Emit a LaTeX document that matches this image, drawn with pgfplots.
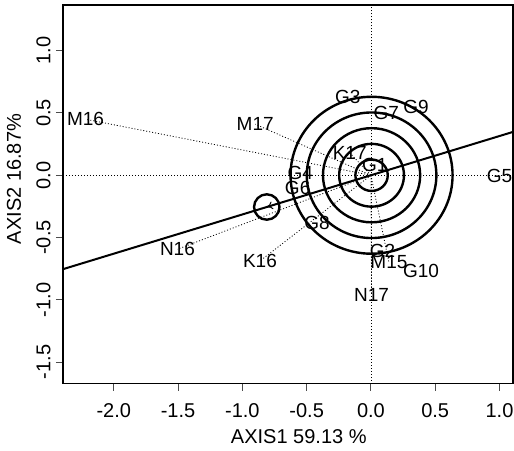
\documentclass[border=0pt]{standalone}
\usepackage{fontspec}
\setmainfont{Liberation Sans}
\usepackage{pgfplots}
\usepackage{pgfplotstable}
\pgfplotsset{compat=1.18}
\usetikzlibrary{arrows.meta}

\pgfplotstableread{
x y label
0.03 0.08 G1
0.09 -0.605 G2
-0.18 0.63 G3
-0.55 0.02 G4
1.0 -0.005 G5
-0.57 -0.10 G6
0.12 0.50 G7
-0.42 -0.385 G8
0.35 0.545 G9
0.39 -0.765 G10
}\genos

\pgfplotstableread{
x y label
-2.22 0.45 M16
-0.90 0.41 M17
-0.165 0.18 K17
-1.505 -0.594 N16
-0.863 -0.688 K16
0.14 -0.70 M15
0.005 -0.96 N17
}\envs

\begin{document}
\begin{tikzpicture}
\begin{axis}[
  at={(0,0)}, anchor=south west,
  scale only axis, width=225pt, height=189.25pt,
  xmin=-2.395, xmax=1.105, ymin=-1.672, ymax=1.367,
  axis line style={line width=0.6pt},
  xtick={-2,-1.5,-1,-0.5,0,0.5,1},
  xticklabels={-2.0,-1.5,-1.0,-0.5,0.0,0.5,1.0},
  ytick={-1.5,-1,-0.5,0,0.5,1},
  yticklabels={-1.5,-1.0,-0.5,0.0,0.5,1.0},
  tick align=outside, tick pos=left, major tick length=3.5pt,
  tick style={line width=0.5pt, black!70},
  ticklabel style={font=\fontsize{10}{12}\selectfont},
  xticklabel style={yshift=-2.9pt},
  yticklabel style={rotate=90, anchor=south, yshift=-0.8pt},
  xlabel={AXIS1 59.13 \%},
  ylabel={AXIS2 16.87\%},
  label style={font=\fontsize{9.5}{11}\selectfont},
  every axis x label/.style={at={(axis description cs:0.524,0)}, anchor=center, yshift=-26.75pt},
  every axis y label/.style={at={(axis description cs:0,0.54)}, anchor=center, rotate=90, yshift=24.5pt},
  clip=true,
]
% reference lines
\addplot[line width=0.4pt, dash pattern=on 0.5pt off 1pt] coordinates {(-2.395,0) (1.105,0)};
\addplot[line width=0.4pt, dash pattern=on 0.5pt off 1pt] coordinates {(0,-1.672) (0,1.367)};
% environment vectors
\addplot[line width=0.4pt, dash pattern=on 0.5pt off 1pt, quiver={u=\thisrow{x}, v=\thisrow{y}}, -] table[x expr=0, y expr=0] {\envs};
% average environment axis
\addplot[line width=1pt] coordinates {(-2.395,-0.754) (1.105,0.348)};
\addplot[line width=0.5pt, -{To[length=3pt,width=4pt]}] coordinates {(-0.74,-0.233) (-0.81,-0.255)};
% circles
\draw[line width=1.2pt] (axis cs:0.005,0) ellipse [x radius=0.126, y radius=0.126];
\draw[line width=1.2pt] (axis cs:0.005,0) ellipse [x radius=0.252, y radius=0.252];
\draw[line width=1.2pt] (axis cs:0.005,0) ellipse [x radius=0.378, y radius=0.378];
\draw[line width=1.2pt] (axis cs:0.005,0) ellipse [x radius=0.504, y radius=0.504];
\draw[line width=1.2pt] (axis cs:0.005,0) ellipse [x radius=0.63, y radius=0.63];
\draw[line width=1.2pt] (axis cs:-0.81,-0.255) ellipse [x radius=0.099, y radius=0.102];
% labels
\addplot[draw=none, mark=none, nodes near coords, point meta=explicit symbolic,
  nodes near coords style={anchor=center, inner sep=0pt, font=\fontsize{9.5}{11}\selectfont}]
  table[x=x, y=y, meta=label] {\genos};
\addplot[draw=none, mark=none, nodes near coords, point meta=explicit symbolic,
  nodes near coords style={anchor=center, inner sep=0pt, font=\fontsize{9.5}{11}\selectfont}]
  table[x=x, y=y, meta=label] {\envs};
\end{axis}
\pgfresetboundingbox
\useasboundingbox (-31.5pt,-33.25pt) rectangle (225.5pt,191.75pt);
\end{tikzpicture}
\end{document}
